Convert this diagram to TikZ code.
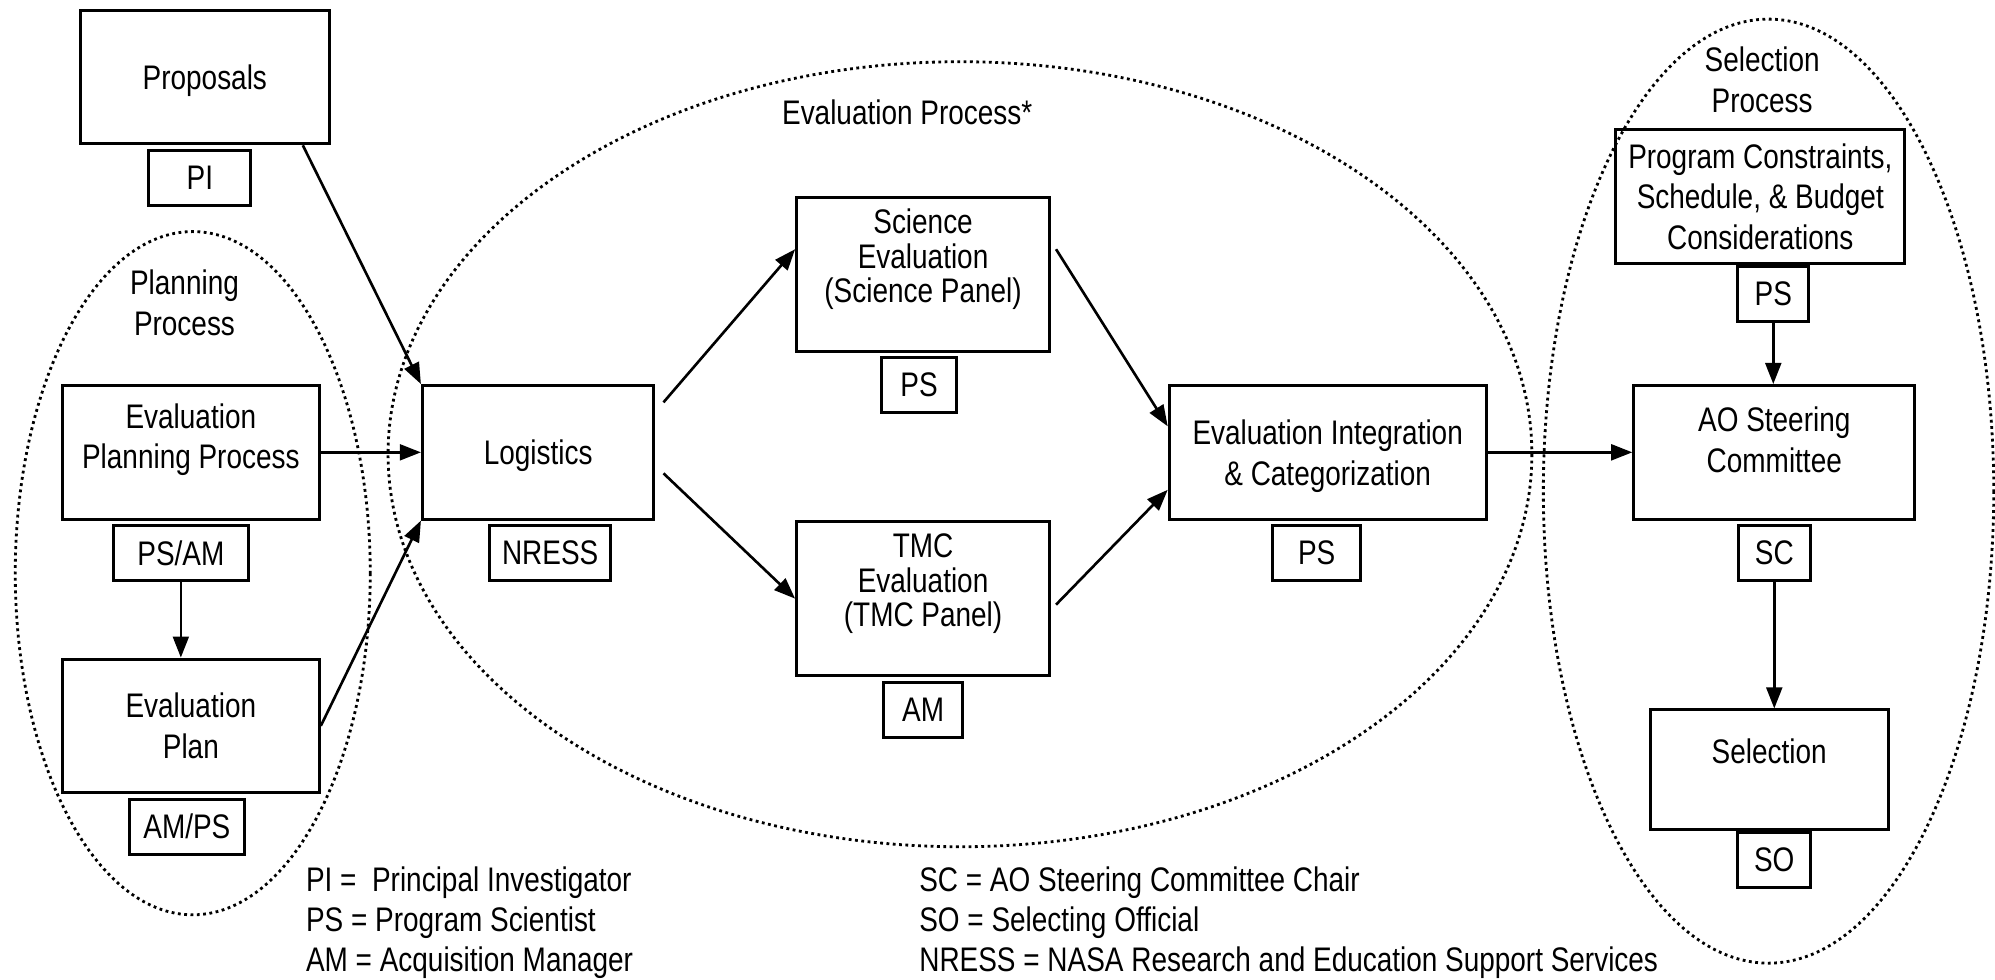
\documentclass[tikz,border=0pt]{standalone}
\usepackage{fontspec}
\setmainfont[FakeStretch=0.82]{Liberation Sans}
\usetikzlibrary{positioning,arrows.meta}

\begin{document}
\begin{tikzpicture}
    [ x = 0.012723cm, y = -0.012723cm
    , font = \fontsize{9.7pt}{11.6pt}\selectfont
    , box/.style =
      { draw, line width=0.85pt, align=center, inner sep=0pt, minimum height=1.336cm }
    , panel/.style =
      { minimum height=1.54cm, font=\fontsize{9.7pt}{9.8pt}\selectfont }
    , tag/.style =
      { draw, line width=0.85pt, inner sep=0pt, minimum height=0.55cm }
    , flow/.style =
      { -{Triangle[length=6pt,width=4.5pt]}, line width=0.75pt }
    , group/.style =
      { densely dotted, line width=0.8pt }
    , legend/.style =
      { anchor=north west, align=left, inner sep=0pt, font=\fontsize{9.7pt}{11.4pt}\selectfont }
    ]
    \useasboundingbox (0,0) rectangle (1568,770);

    % dotted process groups
    \draw [group] (151.5,450.5) ellipse [x radius=139.5, y radius=268.5];
    \draw [group] (754.5,357) ellipse [x radius=449.5, y radius=308.5];
    \draw [group] (1390,386) ellipse [x radius=177, y radius=371];

    \node [align=center] (planninglabel) at (145,238) {Planning\\Process};
    \node (evallabel) at (713,88) {Evaluation Process*};
    \node [align=center] (selectlabel) at (1385,63) {Selection\\Process};

    % boxes and who is in charge
    \node [box, minimum width=2.49cm, text depth=0pt] (proposals) at (161,60.5) {Proposals};
    \node [tag, minimum width=1.02cm] (pi) [below=1pt of proposals, xshift=-0.05cm] {PI};
    \node [box, minimum width=2.57cm, text depth=0.326cm] (planproc) at (150,355.5) {Evaluation\\Planning Process};
    \node [tag, minimum width=1.35cm] (psam) [below=1pt of planproc, xshift=-0.1cm] {PS/AM};
    \node [box, minimum width=2.57cm] (plan) at (150,570.5) {Evaluation\\Plan};
    \node [tag, minimum width=1.145cm] (amps) [below=1pt of plan, xshift=-0.04cm] {AM/PS};
    \node [box, minimum width=2.316cm, text depth=0pt] (logistics) at (423,355.5) {Logistics};
    \node [tag, minimum width=1.21cm] (nress) [below=1pt of logistics, xshift=0.12cm] {NRESS};
    \node [box, panel, minimum width=2.53cm, text depth=0.364cm] (science) at (725.5,215.5) {Science\\Evaluation\\(Science Panel)};
    \node [tag, minimum width=0.75cm] (scips) [below=1pt of science, xshift=-0.04cm] {PS};
    \node [box, panel, minimum width=2.53cm, text depth=0.364cm] (tmc) at (725.5,470.5) {TMC\\Evaluation\\(TMC Panel)};
    \node [tag, minimum width=0.79cm] (am) [below=1pt of tmc] {AM};
    \node [box, minimum width=3.17cm, text depth=0pt] (integration) at (1043.5,355.5) {Evaluation Integration\\\& Categorization};
    \node [tag, minimum width=0.88cm] (intps) [below=1pt of integration, xshift=-0.11cm] {PS};
    \node [box, minimum width=2.89cm] (constraints) at (1383.5,154.5) {Program Constraints,\\Schedule, \& Budget\\Considerations};
    \node [tag, minimum width=0.71cm] (conps) [below=0pt of constraints, xshift=0.13cm] {PS};
    \node [box, minimum width=2.81cm, text depth=0.254cm] (steering) at (1394.5,355.5) {AO Steering\\Committee};
    \node [tag, minimum width=0.725cm] (sc) [below=1pt of steering] {SC};
    \node [box, minimum width=2.38cm, minimum height=1.196cm, text depth=0.38cm] (selection) at (1390.5,605) {Selection};
    \node [tag, minimum width=0.725cm] (so) [below=0pt of selection, xshift=0.05cm] {SO};

    \draw [flow] ([xshift=-0.28cm]proposals.south east) -- (logistics.north west);
    \draw [flow] (planproc.east) -- (logistics.west);
    \draw [flow] (psam.south) -- (psam.south |- plan.north);
    \draw [flow] (plan.east) -- (logistics.south west);
    \draw [flow] ([xshift=0.08cm,yshift=0.5cm]logistics.east) -- ([yshift=0.25cm]science.west);
    \draw [flow] ([xshift=0.08cm,yshift=-0.21cm]logistics.east) -- (tmc.west);
    \draw [flow] ([xshift=0.05cm,yshift=0.25cm]science.east) -- ([yshift=0.26cm]integration.west);
    \draw [flow] ([xshift=0.05cm,yshift=-0.06cm]tmc.east) -- ([yshift=-0.375cm]integration.west);
    \draw [flow] (integration.east) -- (steering.west);
    \draw [flow] (conps.south) -- (conps.south |- steering.north);
    \draw [flow] (sc.south) -- (sc.south |- selection.north);

    % abbreviations
    \node [legend] (legendleft) at (240,681) {PI = \ Principal Investigator\\PS = Program Scientist\\AM = Acquisition Manager};
    \node [legend] (legendright) at (722,681) {SC = AO Steering Committee Chair\\SO = Selecting Official\\NRESS = NASA Research and Education Support Services};
\end{tikzpicture}
\end{document}
